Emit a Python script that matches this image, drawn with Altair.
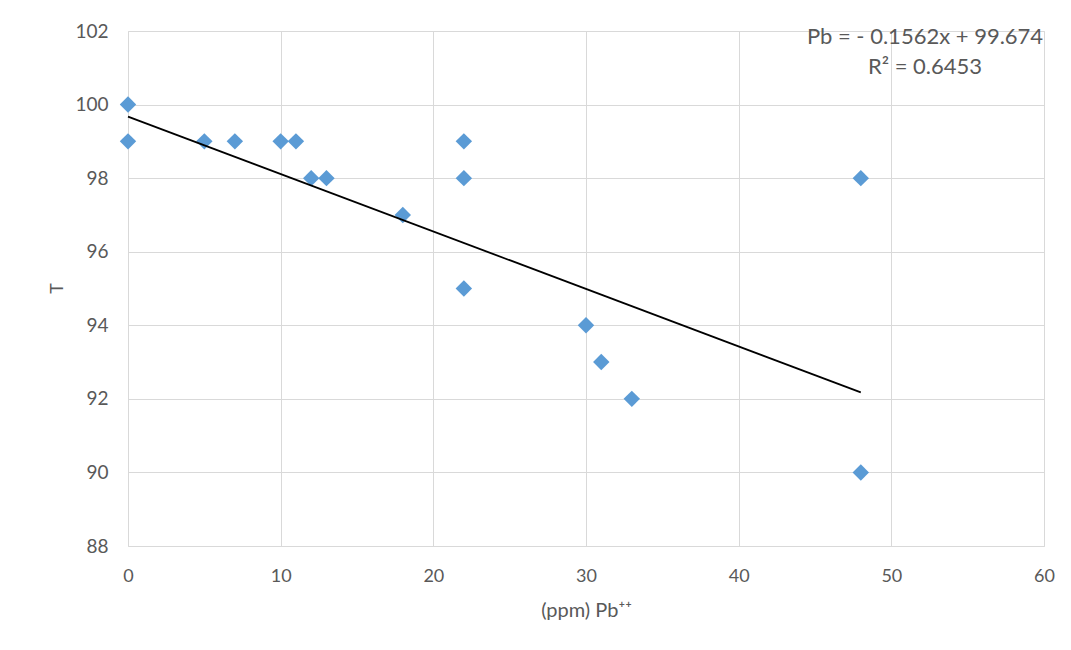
import altair as alt
import pandas as pd

# Data
pb_ppm = [0, 0, 5, 7, 10, 11, 12, 13, 18, 22, 22, 22, 30, 31, 33, 48, 48]
t_vals = [100, 99, 99, 99, 99, 99, 98, 98, 97, 99, 98, 95, 94, 93, 92, 98, 90]

# Trendline as printed on the chart
trend_slope = -0.1562
trend_intercept = 99.674
trend_x = [0, 48]
eq_lines = ["Pb = - 0.1562x + 99.674", "R² = 0.6453"]

pts = pd.DataFrame({"x": pb_ppm, "y": t_vals})
trend = pd.DataFrame({"x": trend_x, "y": [trend_intercept + trend_slope * v for v in trend_x]})

FONT = "Lato"
GRAY = "#595959"
GRID = "#D9D9D9"

xscale = alt.Scale(domain=[0, 60], nice=False, zero=False)
yscale = alt.Scale(domain=[88, 102], nice=False, zero=False)

xaxis = alt.Axis(values=list(range(0, 61, 10)), title="(ppm) Pb⁺⁺", grid=True, gridColor=GRID,
                 domain=False, ticks=False, labelFontSize=18, labelColor=GRAY, labelFont=FONT,
                 labelPadding=21, labelFlush=False, titleFont=FONT, titleFontSize=20,
                 titleColor=GRAY, titleFontWeight="normal", titleY=64, titleBaseline="middle")
yaxis = alt.Axis(values=list(range(88, 103, 2)), title="T", grid=True, gridColor=GRID,
                 domain=False, ticks=False, labelFontSize=19, labelColor=GRAY, labelFont=FONT,
                 labelPadding=20, titleFont=FONT, titleFontSize=18, titleColor=GRAY,
                 titleFontWeight="normal", titleX=-71, titleY=257, titleBaseline="middle",
                 titleAngle=270)

points = alt.Chart(pts).mark_point(shape="diamond", filled=True, size=270, color="#5B9BD5",
                                   opacity=1).encode(
    x=alt.X("x:Q", scale=xscale, axis=xaxis),
    y=alt.Y("y:Q", scale=yscale, axis=yaxis),
)

line = alt.Chart(trend).mark_line(color="black", strokeWidth=1.8).encode(
    x=alt.X("x:Q", scale=xscale),
    y=alt.Y("y:Q", scale=yscale),
)

eq1 = alt.Chart(pd.DataFrame({"t": [eq_lines[0]]})).mark_text(
    font=FONT, fontSize=22, color=GRAY, align="center", baseline="middle").encode(
    text="t:N", x=alt.value(797), y=alt.value(6))
eq2 = alt.Chart(pd.DataFrame({"t": [eq_lines[1]]})).mark_text(
    font=FONT, fontSize=22, color=GRAY, align="center", baseline="middle").encode(
    text="t:N", x=alt.value(797), y=alt.value(36))

chart = alt.layer(points, line, eq1, eq2).properties(
    width=916, height=515,
    padding={"left": 120, "top": 23, "right": 19, "bottom": 96},
    autosize=alt.AutoSizeParams(type="none"),
).configure_view(stroke=GRID).configure(background="white")

chart.save("out.html", embed_options={"renderer": "svg", "actions": False})
